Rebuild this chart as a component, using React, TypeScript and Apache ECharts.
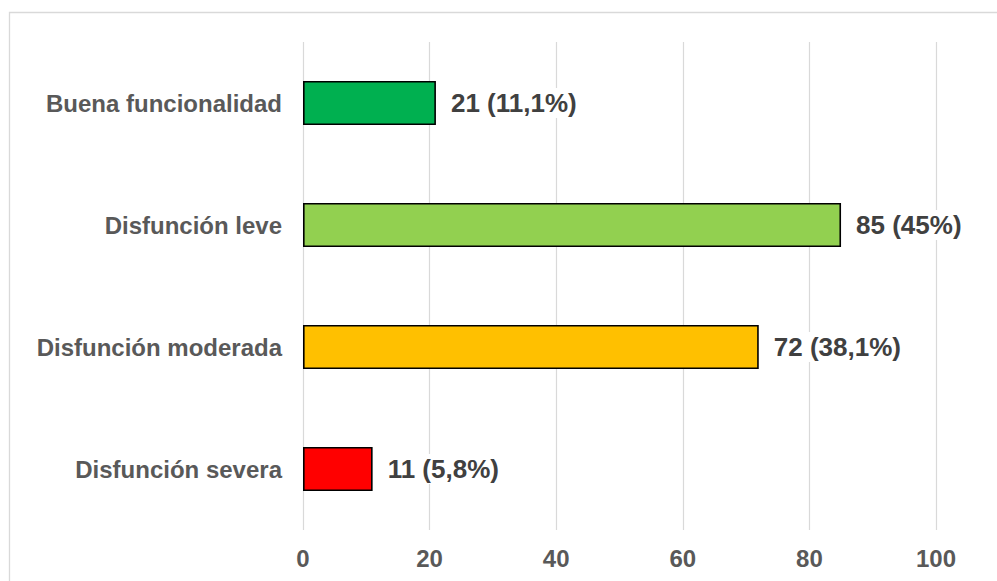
import React, { useEffect, useRef } from "react";
import * as echarts from "echarts";

// Functional levels and patient counts
const categories = [
  "Buena funcionalidad",
  "Disfunción leve",
  "Disfunción moderada",
  "Disfunción severa",
];
const counts = [21, 85, 72, 11];
const percents = ["11,1%", "45%", "38,1%", "5,8%"];
const barColors = ["#00B050", "#92D050", "#FFC000", "#FF0000"];
const axisMin = 0;
const axisMax = 100;
const axisStep = 20;

const FONT = "'Liberation Sans', Arial, sans-serif";

export default function App() {
  const ref = useRef<HTMLDivElement>(null);

  useEffect(() => {
    if (!ref.current) return;
    const chart = echarts.init(ref.current, undefined, { renderer: "svg" });
    chart.setOption({
      animation: false,
      backgroundColor: "#FFFFFF",
      graphic: [
        {
          type: "rect",
          shape: { x: 9.5, y: 12.5, width: 1200, height: 800 },
          style: { fill: "none", stroke: "#D9D9D9", lineWidth: 1.3 },
          silent: true,
          z: -1,
        },
      ],
      grid: { left: 303, right: 61, top: 42, bottom: 51, containLabel: false },
      xAxis: {
        type: "value",
        min: axisMin,
        max: axisMax,
        interval: axisStep,
        axisLine: { show: false },
        axisTick: { show: false },
        splitLine: { show: true, lineStyle: { color: "#D9D9D9", width: 1.2 } },
        axisLabel: {
          margin: 16,
          color: "#595959",
          fontFamily: FONT,
          fontWeight: "bold",
          fontSize: 24,
        },
      },
      yAxis: {
        type: "category",
        inverse: true,
        data: categories,
        axisLine: { show: false },
        axisTick: { show: false },
        axisLabel: {
          margin: 21,
          color: "#595959",
          fontFamily: FONT,
          fontWeight: "bold",
          fontSize: 24,
        },
      },
      series: [
        {
          type: "bar",
          barWidth: 44,
          data: counts.map((v, i) => ({
            value: v,
            itemStyle: {
              color: barColors[i],
              borderColor: "#000000",
              borderWidth: 1.6,
            },
          })),
          label: {
            show: true,
            position: "right",
            distance: 12,
            formatter: (p: any) => `${p.value} (${percents[p.dataIndex]})`,
            color: "#404040",
            fontFamily: FONT,
            fontWeight: "bold",
            fontSize: 26,
            backgroundColor: "#FFFFFF",
            padding: [2, 3],
          },
        },
      ],
    });
    return () => chart.dispose();
  }, []);

  return (
    <div
      ref={ref}
      style={{ position: "fixed", left: 0, top: 0, width: 997, height: 581 }}
    />
  );
}
